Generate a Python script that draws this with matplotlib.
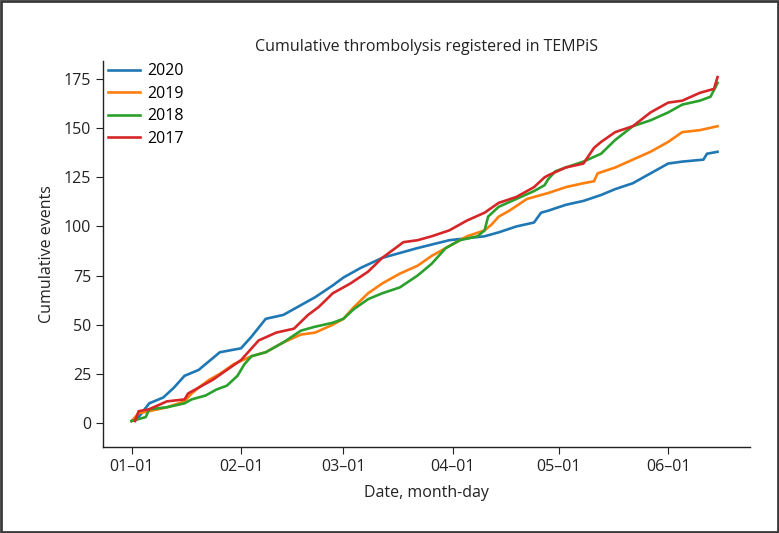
import numpy as np
import pandas as pd
import matplotlib
matplotlib.use("Agg")
import matplotlib.pyplot as plt
import matplotlib.patches as patches

plt.rcParams['font.family'] = ['Open Sans', 'DejaVu Sans']

# days since 01-01, cumulative events
days_2020 = [0, 2, 5, 9, 12, 15, 19, 23, 25, 31, 34, 38, 43, 48, 52, 57, 60, 65, 71, 81,
             90, 100, 104, 109, 114, 116, 118, 123, 128, 133, 137, 142, 145, 147, 150, 152, 156, 162, 163, 166]
cum_2020 = [1, 3, 10, 13, 18, 24, 27, 33, 36, 38, 44, 53, 55, 60, 64, 70, 74, 79, 84, 89,
            93, 95, 97, 100, 102, 107, 108, 111, 113, 116, 119, 122, 125, 127, 130, 132, 133, 134, 137, 138]

days_2019 = [0, 2, 5, 10, 15, 17, 19, 22, 25, 29, 34, 38, 43, 48, 52, 57, 60, 63, 67, 71,
             76, 81, 85, 90, 95, 100, 102, 104, 107, 112, 118, 123, 128, 131, 132, 137, 142, 147, 152, 156, 161, 166]
cum_2019 = [1, 5, 6, 8, 11, 15, 18, 22, 25, 30, 34, 36, 41, 45, 46, 50, 53, 59, 66, 71,
            76, 80, 85, 90, 95, 98, 101, 105, 108, 114, 117, 120, 122, 123, 127, 130, 134, 138, 143, 148, 149, 151]

days_2018 = [0, 4, 5, 10, 15, 17, 21, 24, 27, 30, 32, 34, 38, 43, 48, 52, 57, 60, 63, 67,
             71, 76, 81, 85, 89, 93, 98, 100, 101, 104, 109, 114, 117, 118, 120, 123, 128, 133, 137, 142,
             147, 152, 156, 161, 164, 166]
cum_2018 = [1, 3, 7, 8, 10, 12, 14, 17, 19, 24, 30, 34, 36, 41, 47, 49, 51, 53, 58, 63,
            66, 69, 75, 81, 89, 93, 95, 98, 105, 110, 114, 118, 121, 124, 128, 130, 133, 137, 144, 151,
            154, 158, 162, 164, 166, 173]

days_2017 = [1, 2, 5, 10, 15, 16, 19, 23, 27, 31, 33, 36, 41, 46, 50, 53, 57, 62, 67, 71,
             77, 81, 85, 90, 95, 100, 104, 109, 114, 117, 118, 123, 128, 131, 133, 137, 142, 147, 152, 156,
             161, 165, 166]
cum_2017 = [1, 6, 7, 11, 12, 15, 18, 22, 27, 32, 36, 42, 46, 48, 55, 59, 66, 71, 77, 84,
            92, 93, 95, 98, 103, 107, 112, 115, 120, 125, 126, 130, 132, 140, 143, 148, 151, 158, 163, 164,
            168, 170, 176]

years = ['2020', '2019', '2018', '2017']
colors = ['#1f77b4', '#ff7f0e', '#2ca02c', '#d62728']
tick_months = ['01', '02', '03', '04', '05', '06']

fs = 11.5
fig = plt.figure(figsize=(7.79, 5.33), dpi=100)
ax = fig.add_axes([0.1322, 0.1614, 0.8306, 0.7242])

series = [(days_2020, cum_2020), (days_2019, cum_2019), (days_2018, cum_2018), (days_2017, cum_2017)]
for (d, c), yr, col in zip(series, years, colors):
    ax.plot(d, c, color=col, lw=1.9, label=yr)

# month starts (2020 calendar)
start = pd.Timestamp('2020-01-01')
tick_pos = [(pd.Timestamp('2020-%s-01' % m) - start).days for m in tick_months]
ax.set_xticks(tick_pos)
ax.set_xticklabels(['%s\u201301' % m for m in tick_months])
ax.set_yticks(np.arange(0, 176, 25))

ax.set_xlim(-8.1, 175.2)
ax.set_ylim(-12.2, 184.2)

for s in ['top', 'right']:
    ax.spines[s].set_visible(False)
for s in ['left', 'bottom']:
    ax.spines[s].set_color('#222222')
    ax.spines[s].set_linewidth(1.0)
ax.tick_params(labelsize=fs, length=5, color='#222222', labelcolor='#222222')

ax.set_title('Cumulative thrombolysis registered in TEMPiS', fontsize=fs, pad=7, color='#222222')
ax.set_xlabel('Date, month-day', fontsize=fs, labelpad=7, color='#222222')
ax.set_ylabel('Cumulative events', fontsize=fs, labelpad=6, color='#222222')

ax.legend(loc='upper left', bbox_to_anchor=(0.004, 1.0), frameon=False, fontsize=fs,
          borderaxespad=0.0, borderpad=0.15, handlelength=2.0, handletextpad=0.45,
          labelspacing=0.4)

# outer frame around the figure
fig.patches.append(patches.Rectangle((0.0015, 0.002), 0.997, 0.996, transform=fig.transFigure,
                                     fill=False, edgecolor='#3a3a3a', linewidth=2))

fig.savefig('out.png', dpi=100)
